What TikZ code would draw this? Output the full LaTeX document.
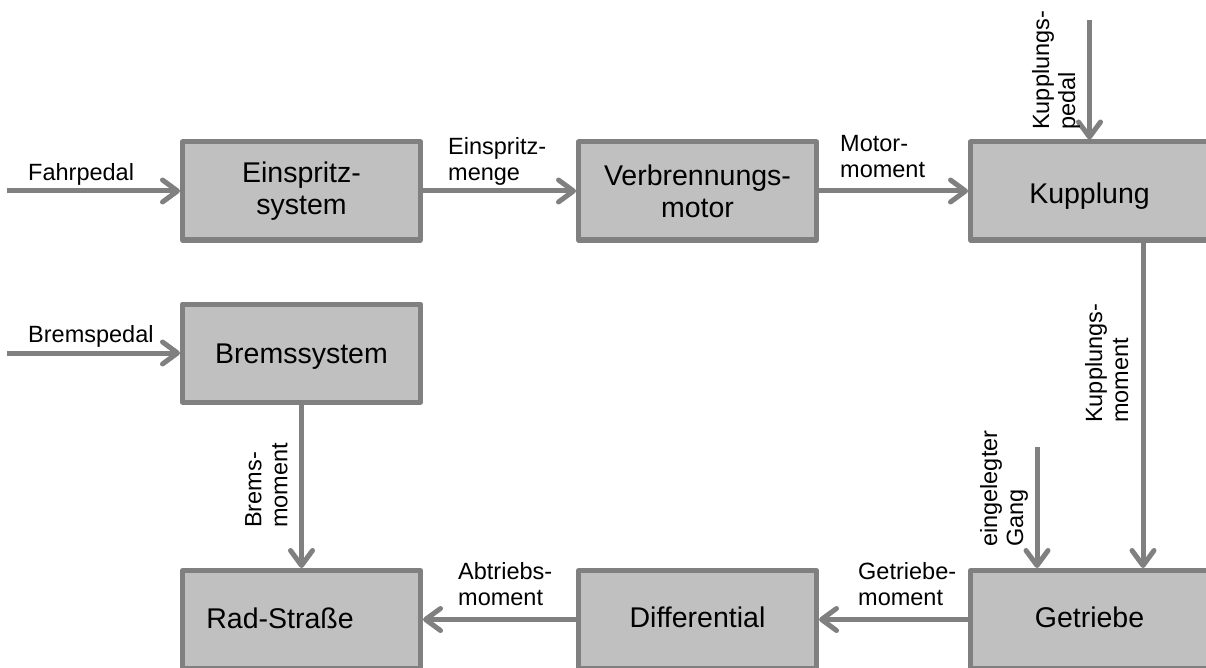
\documentclass[tikz,border=0pt]{standalone}
\usepackage{fontspec}
\setmainfont{Liberation Sans}
\usetikzlibrary{arrows.meta}
\definecolor{edgegray}{RGB}{128,128,128}
\definecolor{boxgray}{RGB}{192,192,192}
\begin{document}
\begin{tikzpicture}[x=1pt,y=-1pt,
  block/.style={draw=edgegray,fill=boxgray,line width=5pt,line join=round,
    minimum width=238pt,minimum height=98pt,inner sep=0pt,
    font=\fontsize{28.5}{32}\selectfont,align=center},
  blocktext/.style={inner sep=0pt,font=\fontsize{28.5}{32}\selectfont,anchor=base},
  flow/.style={draw=edgegray,line width=5pt,
    -{Straight Barb[length=15pt,width=22pt,line cap=round,line join=round]}},
  lbl/.style={inner sep=0pt,font=\fontsize{23.5}{26}\selectfont,align=left,anchor=north west},
  vlbl/.style={lbl,rotate=90}]
\useasboundingbox (0,0) rectangle (1206,668);
\clip (0,0) rectangle (1206,668);

% blocks
\node[block] (einspr) at (301.5,191) {Einspritz-\\system};
\node[block] (verbr)  at (697.5,191) {Verbrennungs-\\motor};
\node[block] (kuppl)  at (1089.5,191) {};
\node[block] (brems)  at (301.5,353) {};
\node[block] (rad)    at (301.5,619.5) {};
\node[block] (diff)   at (697.5,619.5) {};
\node[block] (getr)   at (1089.5,619.5) {};

% single-line block captions, set on their baselines
\node[blocktext] (kuppltxt) at (1089.5,204) {Kupplung};
\node[blocktext] (bremstxt) at (301.5,363) {Bremssystem};
\node[blocktext] (radtxt)   at (280,628) {Rad-Straße};
\node[blocktext] (difftxt)  at (697.5,627) {Differential};
\node[blocktext] (getrtxt)  at (1089.5,627) {Getriebe};

% free ends of the inputs
\coordinate (fahr) at (7,191);
\coordinate (bpedal) at (7,353);
\coordinate (kpedal) at (1089.5,20);
\coordinate (gang) at (1037,447);

% connectors
\draw[flow] (fahr) -- (einspr.west);
\draw[flow] (einspr.east) -- (verbr.west);
\draw[flow] (verbr.east) -- (kuppl.west);
\draw[flow] (kpedal) -- (kuppl.north);
\draw[flow] ([xshift=53.5pt]kuppl.south) -- ([xshift=53.5pt]getr.north);
\draw[flow] (gang) -- (gang |- getr.north);
\draw[flow] (getr.west) -- (diff.east);
\draw[flow] (diff.west) -- (rad.east);
\draw[flow] (bpedal) -- (brems.west);
\draw[flow] (brems.south) -- (rad.north);

% signal labels
\node[lbl] (lfahr) at (28,163) {Fahrpedal};
\node[lbl] (lbrems) at (28,325) {Bremspedal};
\node[lbl] (lmenge) at (448,137) {Einspritz-\\menge};
\node[lbl] (lmotor) at (840,135) {Motor-\\moment};
\node[lbl] (labtr) at (458,562) {Abtriebs-\\moment};
\node[lbl] (lgetr) at (858,562) {Getriebe-\\moment};
\node[vlbl] (lkped) at (1032,130) {Kupplungs-\\pedal};
\node[vlbl] (lkmom) at (1085,423) {Kupplungs-\\moment};
\node[vlbl] (lgang) at (980,547) {eingelegter\\Gang};
\node[vlbl] (lbmom) at (245,528) {Brems-\\moment};
\end{tikzpicture}
\end{document}
